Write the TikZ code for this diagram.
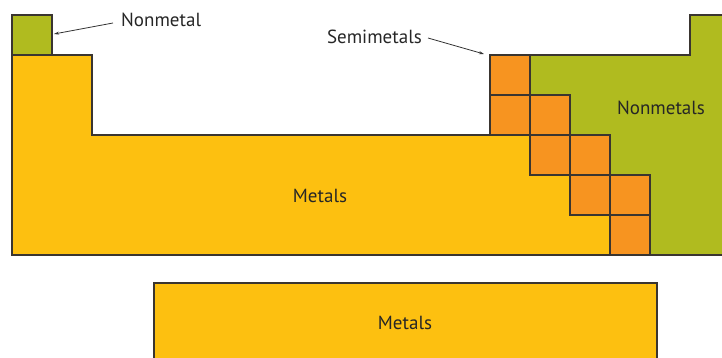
\documentclass[tikz,border=0pt]{standalone}
\usepackage{fontspec}
\setmainfont{PT Sans}
\usetikzlibrary{arrows.meta}
\definecolor{metalcol}{HTML}{FDC010}
\definecolor{semicol}{HTML}{F79420}
\definecolor{nonmetcol}{HTML}{B0BB1F}
\definecolor{edgecol}{HTML}{3A3530}
\tikzset{
  region/.style={draw=edgecol, line width=1.8pt, line join=miter},
  cellbox/.style={region, fill=semicol},
  lbl/.style={font=\fontsize{19}{22}\selectfont, text=black!85, inner sep=0pt},
  pointer/.style={draw=black!80, line width=0.8pt, -{Stealth[length=5pt,width=3pt]}}
}
\begin{document}
\begin{tikzpicture}[x=1pt,y=-1pt]
\useasboundingbox (0,0) rectangle (722,358);
\clip (0,0) rectangle (722,358);

% metals block
\filldraw[region, fill=metalcol]
  (12,55) -- (92,55) -- (92,135) -- (530,135) -- (530,175) -- (570,175)
  -- (570,215) -- (610,215) -- (610,255) -- (12,255) -- cycle;

% hydrogen cell
\filldraw[region, fill=nonmetcol] (12,15) rectangle (52,55);

% nonmetals block
\filldraw[region, fill=nonmetcol]
  (530,55) -- (690,55) -- (690,15) -- (732,15) -- (732,255) -- (650,255)
  -- (650,175) -- (610,175) -- (610,135) -- (570,135) -- (570,95)
  -- (530,95) -- cycle;

% semimetal staircase
\foreach \cx/\cy in {490/55, 490/95, 530/95, 530/135, 570/135, 570/175, 610/175, 610/215}
  \filldraw[cellbox] (\cx,\cy) rectangle ++(40,40);

% f-block row
\filldraw[region, fill=metalcol] (154,283) rectangle (657,372);

% labels
\node[lbl] (metals) at (320,196) {Metals};
\node[lbl] (nonmetals) at (661,108) {Nonmetals};
\node[lbl] (fmetals) at (405,323) {Metals};
\node[lbl, anchor=west] (nonmetal) at (121,20) {Nonmetal};
\node[lbl, anchor=east] (semimetals) at (422,37) {Semimetals};

% pointers
\coordinate (htip) at (54,34);
\coordinate (stip) at (484,54);
\draw[pointer] ([xshift=-8pt,yshift=-3pt]nonmetal.west) -- (htip);
\draw[pointer] ([xshift=6pt,yshift=-1pt]semimetals.east) -- (stip);
\end{tikzpicture}
\end{document}
